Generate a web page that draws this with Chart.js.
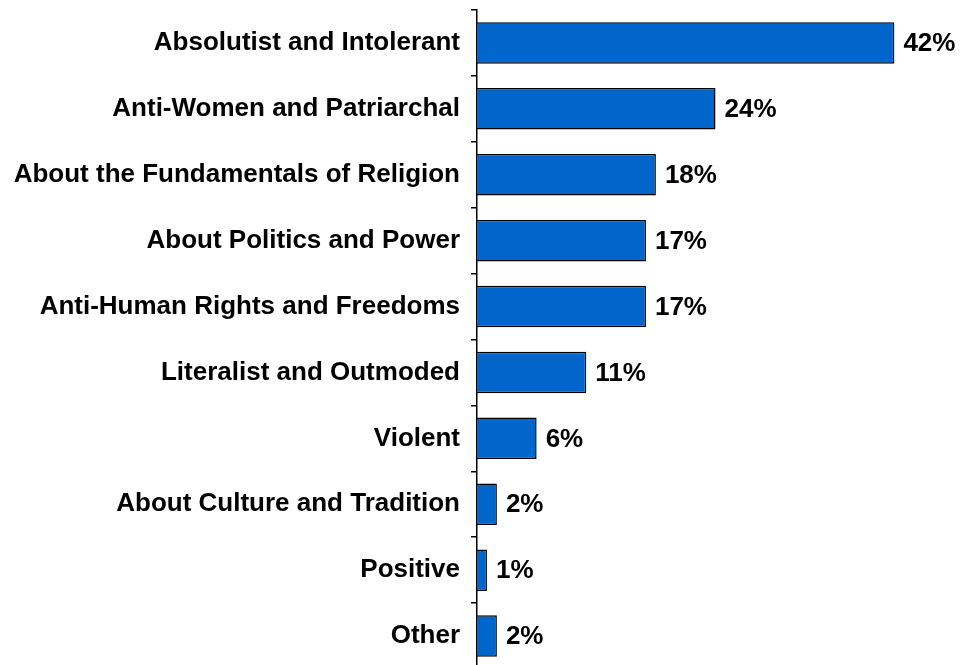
<!DOCTYPE html>
<html>
<head>
<meta charset="utf-8">
<script src="https://cdn.jsdelivr.net/npm/chart.js@4"></script>
<style>
  html, body { margin: 0; padding: 0; background: #fff; overflow: hidden; }
  #wrap { width: 962px; height: 669px; }
</style>
</head>
<body>
<div id="wrap"><canvas id="descChart"></canvas></div>
<script>
const categories = [
    'Absolutist and Intolerant',
    'Anti-Women and Patriarchal',
    'About the Fundamentals of Religion',
    'About Politics and Power',
    'Anti-Human Rights and Freedoms',
    'Literalist and Outmoded',
    'Violent',
    'About Culture and Tradition',
    'Positive',
    'Other'
];
const percents = [42, 24, 18, 17, 17, 11, 6, 2, 1, 2];

const FONT = '"Liberation Sans", Arial, sans-serif';

// writes the percentage just past the end of each bar
const valueLabels = {
    id: 'valueLabels',
    afterDatasetsDraw(chart) {
        const c = chart.ctx;
        const meta = chart.getDatasetMeta(0);
        c.save();
        c.font = 'bold 26px ' + FONT;
        c.fillStyle = '#000';
        c.textAlign = 'left';
        c.textBaseline = 'middle';
        meta.data.forEach((bar, i) => {
            c.fillText(percents[i] + '%', bar.x + 9, bar.y + 1);
        });
        c.restore();
    }
};

const ctx = document.getElementById('descChart').getContext('2d');
const descChart = new Chart(ctx, {
    type: 'bar',
    data: {
        labels: categories,
        datasets: [{
            data: percents,
            backgroundColor: '#0066CC',
            borderColor: '#000',
            borderWidth: 1.5,
            barPercentage: 0.63,
            categoryPercentage: 1
        }]
    },
    options: {
        indexAxis: 'y',
        responsive: true,
        maintainAspectRatio: false,
        animation: false,
        layout: { padding: { top: 10, right: 8, bottom: 0, left: 0 } },
        plugins: {
            legend: { display: false },
            tooltip: { enabled: false }
        },
        scales: {
            x: {
                display: false,
                min: 0,
                max: 48
            },
            y: {
                afterFit(scale) {
                    scale.width = 477;
                    scale.paddingTop = 0;
                    scale.paddingBottom = 0;
                },
                border: { display: true, color: '#000', width: 1.5 },
                grid: {
                    offset: true,
                    drawOnChartArea: false,
                    drawTicks: true,
                    tickLength: 6,
                    color: '#000',
                    lineWidth: 1.5
                },
                ticks: {
                    color: '#000',
                    padding: 11,
                    font: { family: FONT, size: 26, weight: 'bold' }
                }
            }
        }
    },
    plugins: [valueLabels]
});
</script>
</body>
</html>
